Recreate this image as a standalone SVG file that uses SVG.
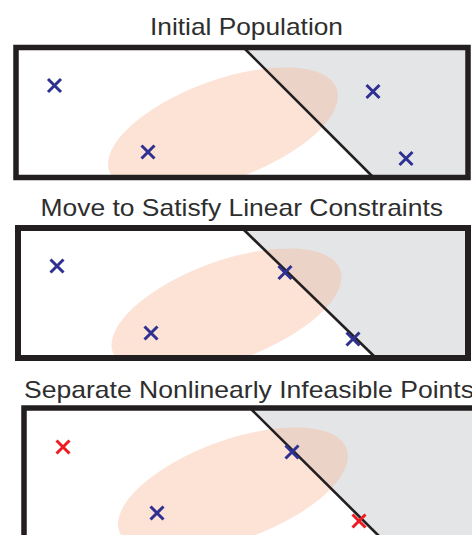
<svg xmlns="http://www.w3.org/2000/svg" width="472" height="535" viewBox="0 0 472 535">
  <style>
    .title { font-family: "Liberation Sans", Arial, sans-serif; font-size: 24px; fill: #2e2e2e; }
    .frame { fill: none; stroke: #231f20; stroke-width: 5.5; }
    .infeas { fill: #e4e5e7; }
    .constraint { stroke: #231f20; stroke-width: 2.6; fill: none; }
    .region { fill: #f7b898; fill-opacity: 0.4; }
    .xb { stroke: #2e3192; stroke-width: 3; fill: none; }
    .xr { stroke: #ed1c24; stroke-width: 3; fill: none; }
  </style>
  <defs>
    <path id="cross" d="M-6.5,-6.5 L6.5,6.5 M-6.5,6.5 L6.5,-6.5"/>
    <clipPath id="c1"><rect x="13" y="45" width="458" height="135"/></clipPath>
    <clipPath id="c2"><rect x="15" y="225" width="457" height="136"/></clipPath>
    <clipPath id="c3"><rect x="21" y="405" width="460" height="140"/></clipPath>
  </defs>
  <rect width="472" height="535" fill="#ffffff"/>

  <g id="panel1">
    <text class="title" x="150" y="35" textLength="193" lengthAdjust="spacingAndGlyphs">Initial Population</text>
    <g clip-path="url(#c1)">
      <polygon class="infeas" points="243.5,47.5 468,47.5 468,177.5 373.5,177.5"/>
      <ellipse class="region" cx="223" cy="130" rx="121" ry="50" transform="rotate(-20 223 130)"/>
      <line class="constraint" x1="243.5" y1="47.5" x2="373.5" y2="177.5"/>
    </g>
    <rect class="frame" x="16" y="47.5" width="452" height="130"/>
    <use href="#cross" class="xb" x="54.5" y="85.5"/>
    <use href="#cross" class="xb" x="148" y="152"/>
    <use href="#cross" class="xb" x="373" y="91.5"/>
    <use href="#cross" class="xb" x="406" y="158.5"/>
  </g>

  <g id="panel2">
    <text class="title" x="40.5" y="216" textLength="402.5" lengthAdjust="spacingAndGlyphs">Move to Satisfy Linear Constraints</text>
    <g clip-path="url(#c2)">
      <polygon class="infeas" points="242,228 468,228 468,358 376,358"/>
      <ellipse class="region" cx="226.5" cy="311" rx="121" ry="50" transform="rotate(-20 226.5 311)"/>
      <line class="constraint" x1="242" y1="228" x2="376" y2="358"/>
    </g>
    <rect class="frame" x="18" y="228" width="450" height="130" style="stroke-width:6"/>
    <use href="#cross" class="xb" x="57" y="266"/>
    <use href="#cross" class="xb" x="151" y="333"/>
    <use href="#cross" class="xb" x="285" y="272.5"/>
    <use href="#cross" class="xb" x="353" y="339"/>
  </g>

  <g id="panel3">
    <text class="title" x="24" y="398" textLength="450" lengthAdjust="spacingAndGlyphs">Separate Nonlinearly Infeasible Points</text>
    <g clip-path="url(#c3)">
      <polygon class="infeas" points="250,408 490,408 490,545 385,545"/>
      <ellipse class="region" cx="233" cy="490" rx="121" ry="50" transform="rotate(-20 233 490)"/>
      <line class="constraint" x1="250" y1="408" x2="388" y2="545"/>
    </g>
    <rect class="frame" x="24" y="408" width="470" height="150"/>
    <use href="#cross" class="xr" x="63" y="447"/>
    <use href="#cross" class="xb" x="157" y="513"/>
    <use href="#cross" class="xb" x="292" y="452"/>
    <use href="#cross" class="xr" x="359" y="521"/>
  </g>
</svg>
